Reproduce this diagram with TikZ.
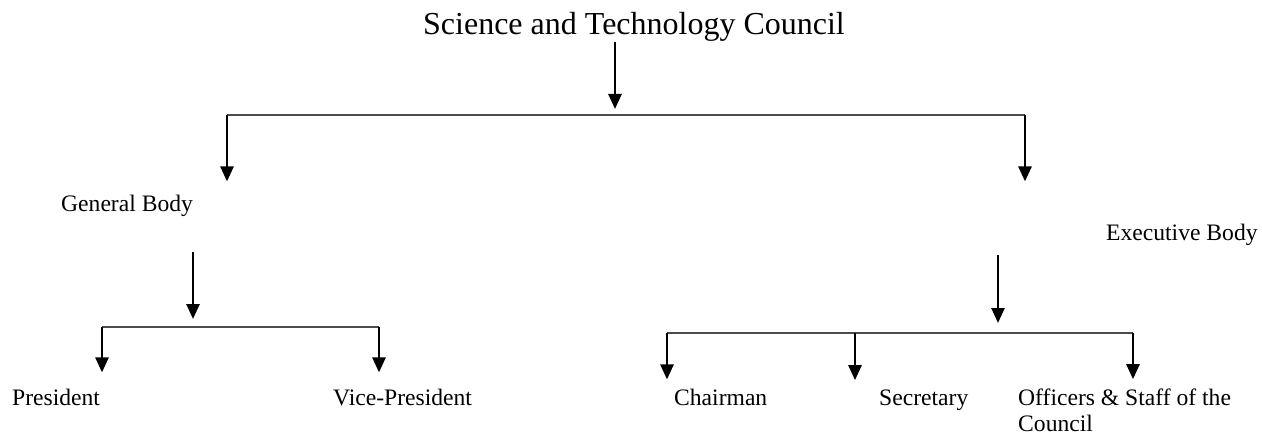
\documentclass[tikz,border=0pt]{standalone}
\usepackage{fontspec}
\setmainfont{Liberation Serif}
\usetikzlibrary{arrows.meta,positioning}

\begin{document}
\begin{tikzpicture}[x=1pt, y=-1pt,
  head/.style={inner sep=0pt, anchor=base, font=\fontsize{32}{36}\selectfont},
  unit/.style={inner sep=0pt, anchor=base west, align=left, font=\fontsize{23.6}{26}\selectfont},
  arrow/.style={-{Triangle[length=15pt, width=13pt]}, line width=2.6pt},
  bar/.style={line width=2.2pt, draw=black!70}
]
\useasboundingbox (0,0) rectangle (1262,436);

% labels
\node[head] (council) at (634,35) {Science and Technology Council};
\node[unit] (gen) at (61,211) {General Body};
\node[unit] (exe) at (1106,240) {Executive Body};
\node[unit] (pres) at (12,405) {President};
\node[unit] (vice) at (333,405) {Vice-President};
\node[unit] (chair) at (674,405) {Chairman};
\node[unit] (sec) at (879,405) {Secretary};
\node[unit] (staff) at (1018,431) {Officers \& Staff of the\\Council};

% junctions
\coordinate (j0) at (615,115);
\coordinate (jgen) at (227,115);
\coordinate (jexe) at (1025,115);
\coordinate (gsrc) at (193,252);
\coordinate (jg) at (193,327);
\coordinate (jpres) at (102,327);
\coordinate (jvice) at (379,327);
\coordinate (esrc) at (998,255);
\coordinate (je) at (998,333);
\coordinate (jchair) at (667,333);
\coordinate (jsec) at (855,333);
\coordinate (jstaff) at (1133,333);

% top level
\draw[arrow, shorten >=6pt] (council.south -| j0) -- (j0);
\draw[bar] (jgen) -- (jexe);
\draw[arrow, shorten >=13pt] (jgen) -- (jgen |- gen.north);
\draw[arrow, shorten >=42pt] (jexe) -- (jexe |- exe.north);

% general body
\draw[arrow, shorten >=8pt] (gsrc) -- (jg);
\draw[bar] (jpres) -- (jvice);
\draw[arrow, shorten >=16pt] (jpres) -- (jpres |- pres.north);
\draw[arrow, shorten >=16pt] (jvice) -- (jvice |- vice.north);

% executive body
\draw[arrow, shorten >=10pt] (esrc) -- (je);
\draw[bar] (jchair) -- (jstaff);
\draw[arrow, shorten >=9pt] (jchair) -- (jchair |- chair.north);
\draw[arrow, shorten >=9pt] (jsec) -- (jsec |- sec.north);
\draw[arrow, shorten >=9pt] (jstaff) -- (jstaff |- staff.north);
\end{tikzpicture}
\end{document}
